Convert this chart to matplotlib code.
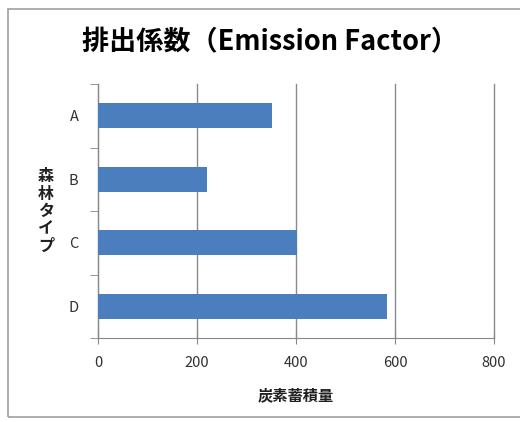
import matplotlib.pyplot as plt
from matplotlib.patches import Rectangle

plt.rcParams['font.family'] = ['Noto Sans CJK JP', 'DejaVu Sans']

forest_types = ['A', 'B', 'C', 'D']
carbon_stock = [352, 220, 402, 584]
x_ticks = [0, 200, 400, 600, 800]

fig = plt.figure(figsize=(5.2, 4.22), dpi=100)

# chart area frame
fig.patches.append(Rectangle((8 / 520, 1 - 417 / 422), 1.2, (417 - 9) / 422,
                             transform=fig.transFigure, fill=False,
                             edgecolor='#a0a0a0', linewidth=1.2))

ax = fig.add_axes([98 / 520, 1 - 338 / 422, (494 - 98) / 520, (338 - 84) / 422])

pos = range(len(forest_types))
ax.barh(pos, carbon_stock, height=0.4, color='#4a7ebd', zorder=3)
ax.set_ylim(len(forest_types) - 0.5, -0.5)
ax.set_xlim(0, 800)

ax.set_xticks(x_ticks)
ax.set_xticklabels([str(v) for v in x_ticks], fontsize=10.5, color='#303030')
ax.set_yticks(list(pos))
ax.set_yticklabels(forest_types, fontsize=10.5, color='#303030')
ax.tick_params(axis='y', length=0, pad=14)
ax.tick_params(axis='x', direction='inout', length=8, color='#888888', pad=9)

# category separators on the y axis
ax.set_yticks([i - 0.5 for i in range(len(forest_types) + 1)], minor=True)
ax.tick_params(axis='y', which='minor', length=6, color='#888888')

ax.grid(axis='x', color='#8a8a8a', linewidth=1.0, zorder=0)
for gl in ax.get_xgridlines():
    gl.set_clip_on(False)
for side in ['top', 'right']:
    ax.spines[side].set_visible(False)
for side in ['left', 'bottom']:
    ax.spines[side].set_color('#888888')

fig.text(270 / 520, 1 - 42 / 422, '排出係数（Emission Factor）',
         ha='center', va='center', fontsize=19.5, fontweight='bold')
fig.text(296 / 520, 1 - 395 / 422, '炭素蓄積量', ha='center', va='center',
         fontsize=11, fontweight='bold', color='#202020')
fig.text(46 / 520, 1 - 211 / 422, '\n'.join('森林タイプ'), ha='center', va='center',
         fontsize=11.5, fontweight='bold', color='#202020', linespacing=1.1)

fig.savefig('out.png', dpi=100)
